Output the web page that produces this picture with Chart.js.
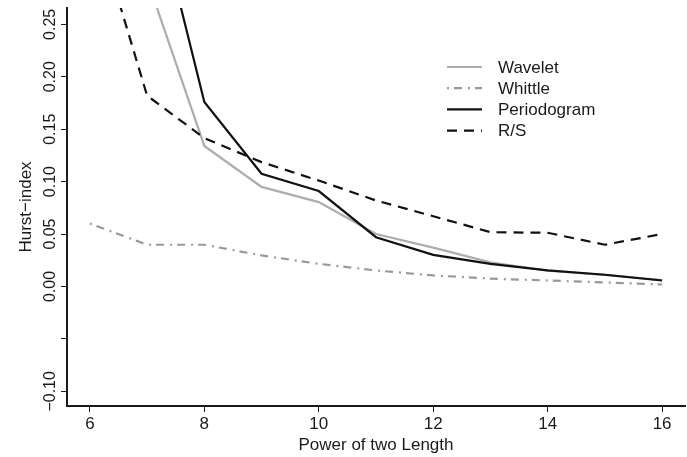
<!DOCTYPE html>
<html>
<head>
<meta charset="utf-8">
<title>Hurst-index by power of two length</title>
<script src="https://cdn.jsdelivr.net/npm/chart.js@4/dist/chart.umd.min.js"></script>
<style>
  html, body { margin: 0; padding: 0; background: #fff; }
  #wrap { width: 687px; height: 457px; position: relative; }
</style>
</head>
<body>
<div id="wrap"><canvas id="chart"></canvas></div>
<script>
(() => {
  "use strict";

  // x = power of two of the series length
  const lengths = [6, 7, 8, 9, 10, 11, 12, 13, 14, 15, 16];
  const wavelet = [0.46, 0.293, 0.134, 0.095, 0.0805, 0.050, 0.037, 0.023, 0.015, 0.011, 0.006];
  const whittle = [0.060, 0.0398, 0.0398, 0.0296, 0.0216, 0.0153, 0.0105, 0.0075, 0.0057, 0.0038, 0.0019];
  const periodogram = [0.55, 0.396, 0.176, 0.1075, 0.091, 0.047, 0.0302, 0.0216, 0.0153, 0.0112, 0.0057];
  const rs = [0.364, 0.182, 0.1415, 0.1186, 0.101, 0.082, 0.067, 0.0518, 0.0512, 0.0398, 0.050];

  const xTicks = [6, 8, 10, 12, 14, 16];
  const yTicks = [-0.10, -0.05, 0.00, 0.05, 0.10, 0.15, 0.20, 0.25];
  const yHidden = [-0.05]; // tick drawn, label left off

  const FONT = "'Liberation Sans', Arial, Helvetica, sans-serif";
  const INK = "#1a1a1a";

  const pts = (ys) => lengths.map((x, i) => ({ x, y: ys[i] }));

  // draws the key inside the plot from the datasets' own styles
  const keyPlugin = {
    id: "key",
    afterDraw(chart) {
      const ctx = chart.ctx;
      ctx.save();
      chart.data.datasets.forEach((ds, i) => {
        const y = 67 + i * 21.2;
        ctx.beginPath();
        ctx.strokeStyle = ds.borderColor;
        ctx.lineWidth = ds.borderWidth;
        ctx.setLineDash(ds.borderDash || []);
        ctx.moveTo(447, y);
        ctx.lineTo(482, y);
        ctx.stroke();
        ctx.setLineDash([]);
        ctx.fillStyle = INK;
        ctx.font = `17px ${FONT}`;
        ctx.textBaseline = "middle";
        ctx.textAlign = "left";
        ctx.fillText(ds.label, 498, y + 1);
      });
      ctx.restore();
    },
  };

  const line = (label, data, color, dash, order) => ({
    label,
    data: pts(data),
    borderColor: color,
    backgroundColor: color,
    borderWidth: 2.2,
    borderDash: dash,
    pointRadius: 0,
    tension: 0,
    fill: false,
    clip: 0,
    order,
  });

  new Chart(document.getElementById("chart"), {
    type: "line",
    data: {
      datasets: [
        line("Wavelet", wavelet, "#adadad", [], 2),
        line("Whittle", whittle, "#999999", [2, 5, 8, 6], 3),
        line("Periodogram", periodogram, "#111111", [], 0),
        line("R/S", rs, "#111111", [10, 7], 1),
      ],
    },
    options: {
      responsive: true,
      maintainAspectRatio: false,
      animation: false,
      layout: { padding: { top: 8, right: 2, left: 0, bottom: 0 } },
      plugins: { legend: { display: false }, tooltip: { enabled: false } },
      scales: {
        x: {
          type: "linear",
          min: 5.6,
          max: 16.4,
          afterBuildTicks: (s) => { s.ticks = xTicks.map((v) => ({ value: v })); },
          afterFit: (s) => { s.height = 51; },
          grid: { drawOnChartArea: false, drawTicks: true, tickLength: 6, color: INK, lineWidth: 1 },
          border: { display: true, color: INK, width: 2 },
          ticks: { color: INK, font: { family: FONT, size: 17 }, padding: 2, maxRotation: 0, autoSkip: false },
          title: { display: true, text: "Power of two Length", color: INK, font: { family: FONT, size: 17 }, padding: { top: 0, bottom: 1 } },
        },
        y: {
          type: "linear",
          min: -0.114,
          max: 0.2656,
          afterBuildTicks: (s) => { s.ticks = yTicks.map((v) => ({ value: v })); },
          afterFit: (s) => { s.width = 67; },
          grid: { drawOnChartArea: false, drawTicks: true, tickLength: 6, color: INK, lineWidth: 1 },
          border: { display: true, color: INK, width: 2 },
          ticks: {
            color: INK,
            font: { family: FONT, size: 16 },
            minRotation: 90,
            maxRotation: 90,
            crossAlign: "center",
            padding: -10,
            autoSkip: false,
            callback: (v) => (yHidden.some((h) => Math.abs(h - v) < 1e-9) ? "" : v.toFixed(2).replace("-", "\u2212")),
          },
          title: { display: true, text: "Hurst\u2212index", color: INK, font: { family: FONT, size: 17 }, padding: { top: 16, bottom: 0 } },
        },
      },
    },
    plugins: [keyPlugin],
  });
})();
</script>
</body>
</html>
